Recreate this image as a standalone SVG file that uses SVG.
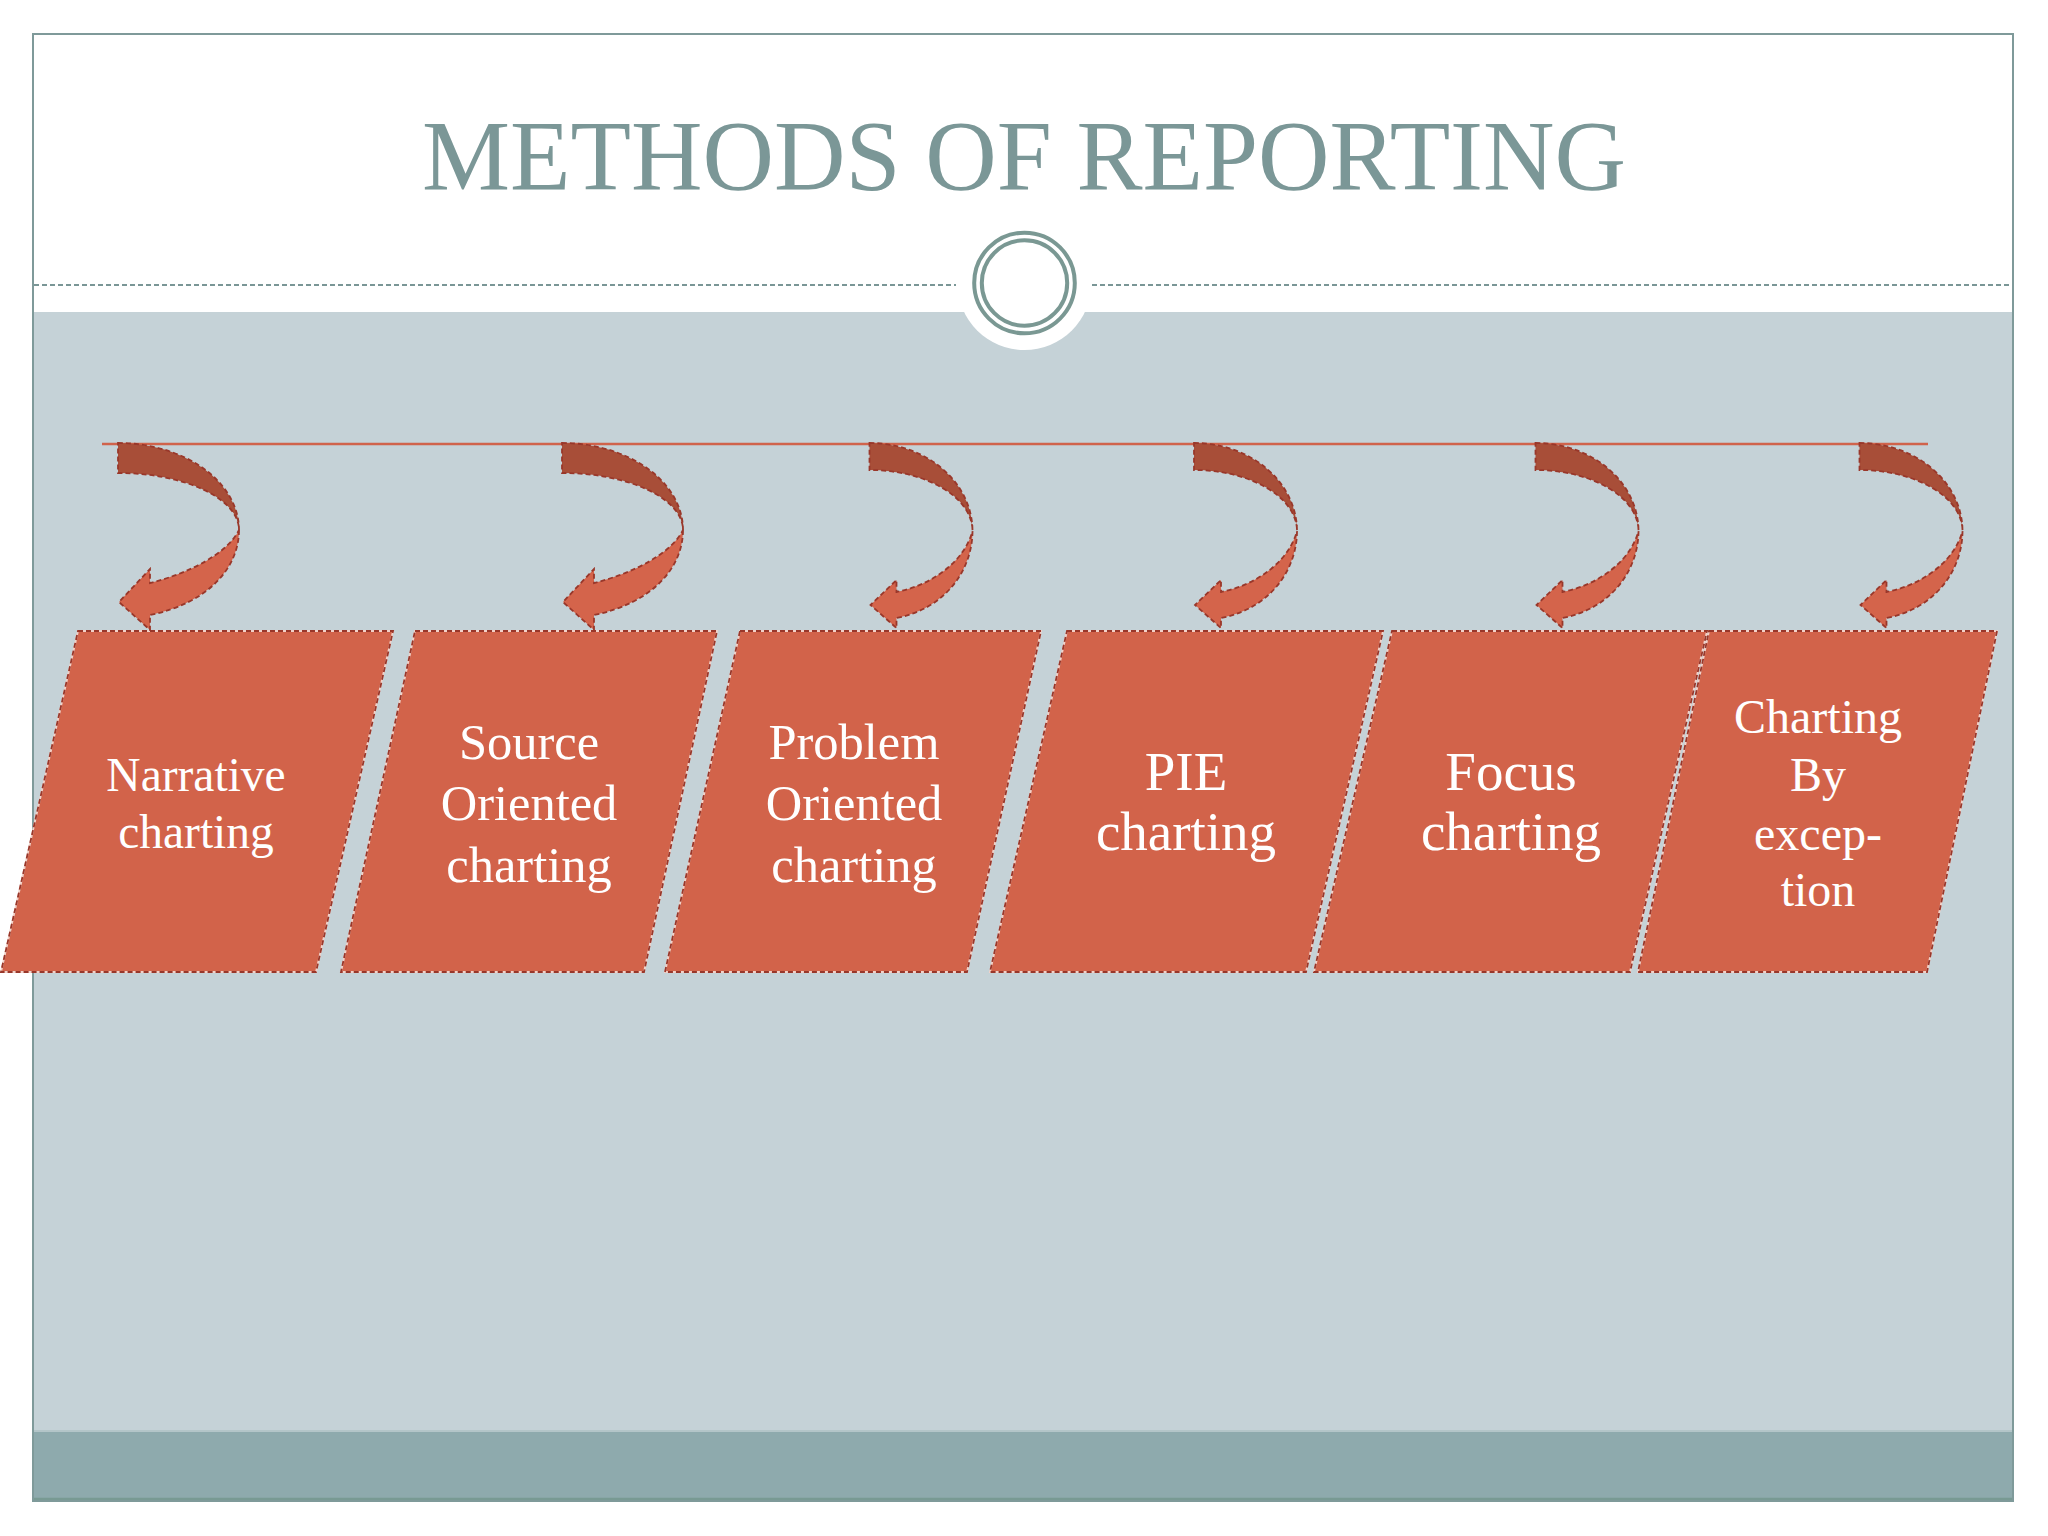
<svg xmlns="http://www.w3.org/2000/svg" xmlns:xlink="http://www.w3.org/1999/xlink" width="2048" height="1536" viewBox="0 0 2048 1536">
  <style>
    .frame { fill:none; stroke:#7f9a9a; stroke-width:2; }
    .sep { stroke:#7a9696; stroke-width:2; stroke-dasharray:5 3; fill:none; }
    .ring { fill:none; stroke:#7a9893; stroke-width:4; }
    .title { font-family:"Liberation Serif","Times New Roman",serif; font-size:99px; fill:#7b9797; text-anchor:middle; }
    .box { fill:#d2634a; stroke:#f2d2c9; stroke-width:1.8; }
    .dash { fill:none; stroke:#99372a; stroke-width:1.8; stroke-dasharray:5 3; }
    .dark { fill:#a84e38; }
    .light { fill:#d4644b; }
    .lbl { font-family:"Liberation Serif","Times New Roman",serif; fill:#ffffff; text-anchor:middle; }
  </style>
  <defs>
    <g id="arrowBig">
      <path class="dark" d="M0,0 A121,87 0 0 1 121,87 A121,57 0 0 0 0,30 Z"/>
      <path class="light" d="M121,87 C121,125 90,160 32,172 L32,187 L1,159 L32,126 L32,140 C72,130 110,110 121,87 Z"/>
      <path class="dash" d="M0,0 A121,87 0 0 1 121,87 A121,57 0 0 0 0,30 Z"/>
      <path class="dash" d="M121,87 C121,125 90,160 32,172 L32,187 L1,159 L32,126 L32,140 C72,130 110,110 121,87 Z"/>
    </g>
    <g id="arrowSmall">
      <path class="dark" d="M0,0 A103,88 0 0 1 103,88 A103,61 0 0 0 0,27 Z"/>
      <path class="light" d="M103,88 C103,125 78,165 27,175 L27,185 L1,162 L27,137 L27,149 C63,142 95,118 103,88 Z"/>
      <path class="dash" d="M0,0 A103,88 0 0 1 103,88 A103,61 0 0 0 0,27 Z"/>
      <path class="dash" d="M103,88 C103,125 78,165 27,175 L27,185 L1,162 L27,137 L27,149 C63,142 95,118 103,88 Z"/>
    </g>
  </defs>

  <!-- background -->
  <rect x="0" y="0" width="2048" height="1536" fill="#ffffff"/>
  <rect x="34" y="312" width="1978" height="1118" fill="#c5d2d7"/>
  <rect x="34" y="1430" width="1978" height="70" fill="#8eaaad"/>
  <line x1="34" y1="1431" x2="2012" y2="1431" stroke="#b3c5c8" stroke-width="2"/>
  <line x1="34" y1="1499" x2="2012" y2="1499" stroke="#789a93" stroke-width="2.5"/>
  <rect class="frame" x="33" y="34" width="1980" height="1467"/>

  <!-- header -->
  <text class="title" x="1024" y="189">METHODS OF REPORTING</text>
  <line class="sep" x1="34" y1="285" x2="956" y2="285"/>
  <line class="sep" x1="1092" y1="285" x2="2012" y2="285"/>
  <circle cx="1024.5" cy="283" r="67" fill="#ffffff"/>
  <circle class="ring" cx="1024.5" cy="283" r="50.3"/>
  <circle class="ring" cx="1024.5" cy="283" r="42.7"/>

  <!-- nodes -->
  <g id="node-narrative">
    <polygon class="box" points="78,631 393,631 316,972 1,972"/>
    <polygon class="dash" points="78,631 393,631 316,972 1,972"/>
    <text class="lbl" font-size="47.5" x="196" y="791">Narrative</text>
    <text class="lbl" font-size="47.5" x="196" y="848">charting</text>
  </g>
  <g id="node-source">
    <polygon class="box" points="415,631 717,631 644,972 341,972"/>
    <polygon class="dash" points="415,631 717,631 644,972 341,972"/>
    <text class="lbl" font-size="50.5" x="529" y="759">Source</text>
    <text class="lbl" font-size="50.5" x="529" y="820">Oriented</text>
    <text class="lbl" font-size="50.5" x="529" y="882">charting</text>
  </g>
  <g id="node-problem">
    <polygon class="box" points="740,631 1041,631 967,972 665,972"/>
    <polygon class="dash" points="740,631 1041,631 967,972 665,972"/>
    <text class="lbl" font-size="50.5" x="854" y="759">Problem</text>
    <text class="lbl" font-size="50.5" x="854" y="820">Oriented</text>
    <text class="lbl" font-size="50.5" x="854" y="882">charting</text>
  </g>
  <g id="node-pie">
    <polygon class="box" points="1067,631 1383,631 1306,972 990,972"/>
    <polygon class="dash" points="1067,631 1383,631 1306,972 990,972"/>
    <text class="lbl" font-size="55" x="1186" y="790">PIE</text>
    <text class="lbl" font-size="55" x="1186" y="850">charting</text>
  </g>
  <g id="node-focus">
    <polygon class="box" points="1392,631 1707,631 1630,972 1314,972"/>
    <polygon class="dash" points="1392,631 1707,631 1630,972 1314,972"/>
    <text class="lbl" font-size="55" x="1511" y="790">Focus</text>
    <text class="lbl" font-size="55" x="1511" y="850">charting</text>
  </g>
  <g id="node-exception">
    <polygon class="box" points="1709,631 1997,631 1927,972 1638,972"/>
    <polygon class="dash" points="1709,631 1997,631 1927,972 1638,972"/>
    <text class="lbl" font-size="48" x="1818" y="733">Charting</text>
    <text class="lbl" font-size="48" x="1818" y="791">By</text>
    <text class="lbl" font-size="48" x="1818" y="850">excep-</text>
    <text class="lbl" font-size="48" x="1818" y="906">tion</text>
  </g>

  <!-- connectors -->
  <g id="connectors">
    <line x1="102" y1="444" x2="1928" y2="444" stroke="#d0634b" stroke-width="2.5"/>
    <use xlink:href="#arrowBig" href="#arrowBig" transform="translate(118,443)"/>
    <use xlink:href="#arrowBig" href="#arrowBig" transform="translate(562,443)"/>
    <use xlink:href="#arrowSmall" href="#arrowSmall" transform="translate(869.5,443)"/>
    <use xlink:href="#arrowSmall" href="#arrowSmall" transform="translate(1194,443)"/>
    <use xlink:href="#arrowSmall" href="#arrowSmall" transform="translate(1535.5,443)"/>
    <use xlink:href="#arrowSmall" href="#arrowSmall" transform="translate(1859.5,443)"/>
  </g>
</svg>
